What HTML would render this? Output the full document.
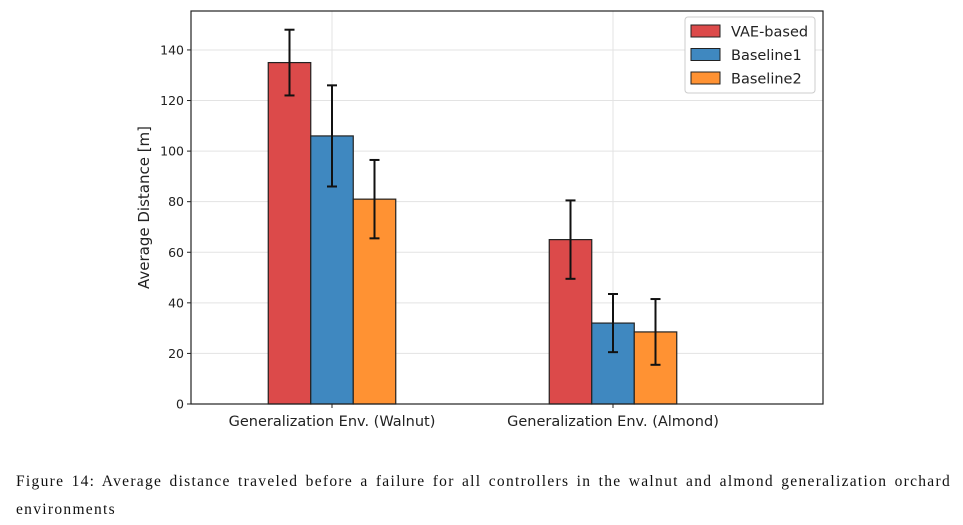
<!DOCTYPE html>
<html><head><meta charset="utf-8"><style>
body{margin:0;background:#fff;width:963px;height:525px;overflow:hidden;position:relative}
svg{position:absolute;left:0;top:0}
.cap{position:absolute;left:16px;width:935px;font-family:"Liberation Serif",serif;font-size:15.5px;letter-spacing:1.3px;color:#111;white-space:nowrap}
.l1{top:473px;text-align:justify;text-align-last:justify;white-space:normal;height:20px;overflow:hidden}
.l2{top:501px}
</style></head><body>
<svg width="963" height="460" id="chart" font-family="DejaVu Sans, Liberation Sans, sans-serif"></svg>
<div class="cap l1">Figure 14: Average distance traveled before a failure for all controllers in the walnut and almond generalization orchard</div>
<div class="cap l2">environments</div>
<script>
const categories=["Generalization Env. (Walnut)","Generalization Env. (Almond)"];
const seriesNames=["VAE-based","Baseline1","Baseline2"];
const vaeVals=[135,65];
const b1Vals=[106,32];
const b2Vals=[81,28.5];
const vaeErr=[13,15.5];
const b1Err=[20,11.5];
const b2Err=[15.5,13];
const yTicks=[0,20,40,60,80,100,120,140];
const colors=["#dc4a4a","#3f88c0","#ff9233"];
const L=191,R=823,T=11,B=404;
const y=v=>B-v*2.529;
const xc=i=>332+281*i;
const bw=42.5;
const ns="http://www.w3.org/2000/svg";
const svg=document.getElementById('chart');
function mk(t,a,p){const e=document.createElementNS(ns,t);for(const k in a)e.setAttribute(k,a[k]);(p||svg).appendChild(e);return e;}
yTicks.forEach(t=>{
 const g=mk('line',{x1:L,x2:R,y1:y(t),y2:y(t),stroke:'#e3e3e3','stroke-width':1});
 
 
 mk('line',{x1:L-4,x2:L,y1:y(t),y2:y(t),stroke:'#222'});
 const tx=mk('text',{x:L-7,y:y(t)+4.5,'text-anchor':'end','font-size':12.5,fill:'#222'});
 tx.textContent=t;
 
 
});
categories.forEach((c,i)=>{
 mk('line',{x1:xc(i),x2:xc(i),y1:T,y2:B,stroke:'#e3e3e3'});
 mk('line',{x1:xc(i),x2:xc(i),y1:B,y2:B+4,stroke:'#222'});
 const tx=mk('text',{x:xc(i),y:B+22,'text-anchor':'middle','font-size':14.5,fill:'#222'});
 tx.textContent=c;
 
 
});
const vals=[vaeVals,b1Vals,b2Vals],errs=[vaeErr,b1Err,b2Err];
vals.forEach((s,k)=>{
 s.forEach((v,i)=>{
  const x0=xc(i)+(k-1.5)*bw;
  const r=mk('rect',{x:x0,y:y(v),width:bw,height:B-y(v),fill:colors[k],stroke:'#222','stroke-width':1.2});
  
  
 });
});
vals.forEach((s,k)=>{
 s.forEach((v,i)=>{
  const cx=xc(i)+(k-1)*bw;
  const e=errs[k][i];
  const g=mk('g',{stroke:'#111','stroke-width':2});
  
  
  mk('line',{x1:cx,x2:cx,y1:y(v-e),y2:y(v+e)},g);
  mk('line',{x1:cx-5,x2:cx+5,y1:y(v-e),y2:y(v-e)},g);
  mk('line',{x1:cx-5,x2:cx+5,y1:y(v+e),y2:y(v+e)},g);
 });
});
mk('rect',{x:L,y:T,width:R-L,height:B-T,fill:'none',stroke:'#222','stroke-width':1.2});
const yl=mk('text',{x:0,y:0,transform:`translate(149,${(T+B)/2}) rotate(-90)`,'text-anchor':'middle','font-size':15,fill:'#222'});
yl.textContent='Average Distance [m]';


const lg=mk('g',{});


mk('rect',{x:685,y:17,width:130,height:76,rx:3,fill:'#fff',stroke:'#ccc'},lg);
seriesNames.forEach((n,k)=>{
 const yy=31+23.5*k;
 const sw=mk('rect',{x:691,y:yy-6,width:29,height:12,fill:colors[k],stroke:'#222'},lg);
 
 
 const t=mk('text',{x:731,y:yy+5.5,'font-size':14.5,fill:'#222'},lg);
 t.textContent=n;
 
 
});
</script>
</body></html>
